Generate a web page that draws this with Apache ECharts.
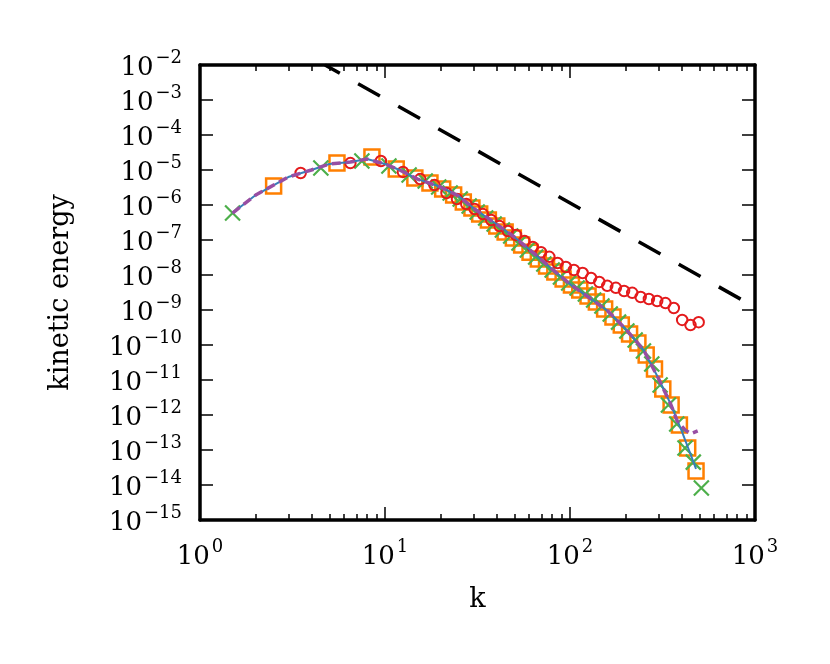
<!DOCTYPE html>
<html>
<head>
<meta charset="utf-8">
<script src="https://cdn.jsdelivr.net/npm/echarts@6/dist/echarts.min.js"></script>
<style>
html, body { margin: 0; padding: 0; background: #fff; }
#main { width: 830px; height: 664px; }
</style>
</head>
<body>
<div id="main"></div>
<script>
// tick positions
var xMajor = [1, 10, 100, 1000];
var xMinor = [2, 3, 4, 5, 6, 7, 8, 9, 20, 30, 40, 50, 60, 70, 80, 90, 200, 300, 400, 500, 600, 700, 800, 900];
var yMajor = [1e-15, 1e-14, 1e-13, 1e-12, 1e-11, 1e-10, 1e-9, 1e-8, 1e-7, 1e-6, 1e-5, 1e-4, 1e-3, 1e-2];

// red circles
var redK = [3.5, 6.5, 9.5, 12.5, 15.5, 18.5, 21.5, 24.5, 27.5, 30.5,
    33.8, 37.5, 41.6, 46.1, 51.1, 56.7, 62.9, 69.7, 77.3, 85.7, 95, 105, 117, 130, 144, 159, 177, 196, 217, 241, 267, 296, 328, 364, 404, 448, 496];
var redE = [8.2e-6, 1.58e-5, 1.81e-5, 8.8e-6, 5.5e-6, 3.7e-6, 2.2e-6, 1.48e-6, 1.07e-6, 7.7e-7,
    5.5e-7, 3.73e-7, 2.5e-7, 1.81e-7, 1.39e-7, 9.4e-8, 6.3e-8, 4.5e-8, 3.3e-8, 2.2e-8, 1.69e-8, 1.39e-8, 1.14e-8, 8.2e-9, 6.3e-9, 4.9e-9, 4.3e-9, 3.5e-9, 3.1e-9, 2.35e-9, 2.06e-9, 1.81e-9, 1.58e-9, 1.14e-9, 5.2e-10, 3.7e-10, 4.5e-10];

// orange squares
var orangeK = [2.5, 5.5, 8.5, 11.5, 14.5, 17.5, 20.5, 23.5, 26.5, 29.5, 32.5,
    36.2, 40.2, 44.6, 49.4, 54.8, 60.8, 67.4, 74.7, 82.8, 91.8, 101.8, 112.9, 125.2, 138.8, 153.9, 170.7, 189.3, 209.9, 232.8, 258.1, 286.2, 317.4, 352, 390.3, 432.8, 480];
var orangeE = [3.5e-6, 1.58e-5, 2.35e-5, 1.07e-5, 5.9e-6, 4.25e-6, 2.86e-6, 1.93e-6, 1.22e-6, 8.2e-7, 5.5e-7,
    3.73e-7, 2.5e-7, 1.69e-7, 1.14e-7, 7.2e-8, 4.5e-8, 2.86e-8, 1.81e-8, 1.22e-8, 7.7e-9, 5.2e-9, 3.73e-9, 2.5e-9, 1.69e-9, 1.07e-9, 6.3e-10, 3.73e-10, 2.06e-10, 1.14e-10, 5.2e-11, 2.06e-11, 5.5e-12, 1.93e-12, 5.2e-13, 1.14e-13, 2.5e-14];

// green crosses
var greenK = [1.5, 4.5, 7.5, 10.5, 13.5, 16.5, 19.5, 22.5, 25.5, 28.5, 31.5,
    35, 38.9, 43.1, 47.8, 53, 58.8, 65.2, 72.2, 80.1, 88.8, 98.4, 109.2, 121.1, 134.2, 148.8, 165, 183, 203, 225, 249.5, 276.7, 306.9, 340.4, 377.4, 418.5, 464, 513];
var greenE = [5.9e-7, 1.14e-5, 1.81e-5, 1.3e-5, 7.2e-6, 4.85e-6, 3.27e-6, 2.2e-6, 1.48e-6, 9.4e-7, 6.3e-7,
    4.25e-7, 2.86e-7, 1.93e-7, 1.3e-7, 8.2e-8, 5.2e-8, 3.27e-8, 2.06e-8, 1.39e-8, 8.8e-9, 5.9e-9, 4.25e-9, 2.86e-9, 1.93e-9, 1.3e-9, 7.7e-10, 4.5e-10, 2.5e-10, 1.39e-10, 6.7e-11, 2.86e-11, 7.2e-12, 1.93e-12, 5.5e-13, 1.14e-13, 4.5e-14, 8.2e-15];

// blue solid line
var blueK = [1.5, 2, 3, 4, 5, 6.5, 8, 10, 12, 15, 20, 25, 30, 40, 50, 60, 80, 100, 130, 160, 200, 250, 300, 350, 400, 450, 480];
var blueE = [5.9e-7, 1.93e-6, 6.3e-6, 1e-5, 1.48e-5, 1.69e-5, 2.06e-5, 1.48e-5, 1e-5, 5.5e-6, 3.27e-6, 1.81e-6, 8.2e-7, 2.86e-7, 1.22e-7, 5.5e-8, 1.48e-8, 5.5e-9, 2.06e-9, 9.4e-10, 2.86e-10, 7.2e-11, 1.14e-11, 2.06e-12, 3.7e-13, 7.2e-14, 2.9e-14];

// purple dashed line
var purpleK = [1.5, 2, 3, 4, 5, 6.5, 8, 10, 12, 15, 20, 25, 30, 40, 50, 60, 80, 100, 130, 160, 200, 250, 300, 350, 380, 420, 450, 490];
var purpleE = [5.9e-7, 1.93e-6, 6.3e-6, 1e-5, 1.48e-5, 1.69e-5, 2.06e-5, 1.48e-5, 1e-5, 5.5e-6, 3.27e-6, 1.81e-6, 8.2e-7, 2.86e-7, 1.22e-7, 5.5e-8, 1.48e-8, 5.5e-9, 2.06e-9, 9.4e-10, 2.86e-10, 7.2e-11, 1.14e-11, 2.06e-12, 6.7e-13, 3.7e-13, 2.9e-13, 3.5e-13];

// black dashed reference slope
var refK = [4.74, 1000];
var refE = [1e-2, 1.2e-9];

function pairs(ks, es) {
    var res = [];
    for (var i = 0; i < ks.length; i++) {
        res.push([ks[i], es[i]]);
    }
    return res;
}

var serif = 'DejaVu Serif';
var supRich = {
    b: { fontFamily: serif, fontSize: 26, color: '#000', lineHeight: 32, verticalAlign: 'bottom' },
    s: { fontFamily: serif, fontSize: 18, color: '#000', lineHeight: 8, verticalAlign: 'top', padding: [0, 0, 0, 2] }
};
function powLabel(v) {
    var e = Math.round(Math.log(v) / Math.LN10);
    return '{b|10}{s|' + String(e).replace('-', '\u2212') + '}';
}

var frame = { show: true, onZero: false, lineStyle: { color: '#000', width: 3.5 } };

function xAxisDef(pos, major, withLabel) {
    return {
        type: 'log', logBase: 10, min: 1, max: 1000, position: pos,
        axisLine: major ? frame : { show: false },
        axisTick: {
            show: true, inside: true, length: major ? 13 : 6,
            customValues: major ? xMajor : xMinor,
            lineStyle: { color: '#000', width: 1.5 }
        },
        axisLabel: withLabel ? {
            show: true, margin: 18, customValues: xMajor,
            formatter: powLabel, rich: supRich
        } : { show: false },
        splitLine: { show: false },
        minorTick: { show: false },
        name: withLabel ? 'k' : '',
        nameLocation: 'middle', nameGap: 66,
        nameTextStyle: { fontFamily: serif, fontSize: 27, color: '#000' }
    };
}

function yAxisDef(pos, withLabel) {
    return {
        type: 'log', logBase: 10, min: 1e-15, max: 1e-2, position: pos,
        axisLine: frame,
        axisTick: {
            show: true, inside: true, length: 13, customValues: yMajor,
            lineStyle: { color: '#000', width: 1.5 }
        },
        axisLabel: withLabel ? {
            show: true, margin: 18, customValues: yMajor,
            formatter: powLabel, rich: supRich
        } : { show: false },
        splitLine: { show: false },
        minorTick: { show: false },
        name: withLabel ? 'kinetic energy' : '',
        nameLocation: 'middle', nameGap: 126,
        nameTextStyle: { fontFamily: serif, fontSize: 27, color: '#000' }
    };
}

var myChart = echarts.init(document.getElementById('main'), null, { renderer: 'canvas' });
var option = {
    animation: false,
    backgroundColor: '#fff',
    grid: { left: 200, right: 75, top: 65, bottom: 144, containLabel: false },
    xAxis: [
        xAxisDef('bottom', true, true),
        xAxisDef('bottom', false, false),
        xAxisDef('top', true, false),
        xAxisDef('top', false, false)
    ],
    yAxis: [
        yAxisDef('left', true),
        yAxisDef('right', false)
    ],
    series: [
        {
            name: 'blue', type: 'line', data: pairs(blueK, blueE),
            showSymbol: false, silent: true,
            lineStyle: { color: '#377eb8', width: 2 }
        },
        {
            name: 'orange', type: 'scatter', data: pairs(orangeK, orangeE),
            symbol: 'rect', symbolSize: 15, silent: true,
            itemStyle: { color: 'rgba(0,0,0,0)', borderColor: '#ff7f00', borderWidth: 2.5, opacity: 1 }
        },
        {
            name: 'green', type: 'scatter', data: pairs(greenK, greenE),
            symbol: 'path://M0,0L10,10M10,0L0,10', symbolSize: 15, silent: true,
            itemStyle: { color: 'rgba(0,0,0,0)', borderColor: '#4daf4a', borderWidth: 2.2, opacity: 1 }
        },
        {
            name: 'red', type: 'scatter', data: pairs(redK, redE),
            symbol: 'circle', symbolSize: 10.5, silent: true,
            itemStyle: { color: 'rgba(0,0,0,0)', borderColor: '#e41a1c', borderWidth: 2, opacity: 1 }
        },
        {
            name: 'purple', type: 'line', data: pairs(purpleK, purpleE),
            showSymbol: false, silent: true,
            lineStyle: { color: '#984ea3', width: 3.5, type: [9, 5] }
        },
        {
            name: 'slope', type: 'line', data: pairs(refK, refE),
            showSymbol: false, silent: true,
            lineStyle: { color: '#000', width: 3.5, type: [25, 21], dashOffset: 8 }
        }
    ]
};
myChart.setOption(option);
window.addEventListener('resize', function () {
    myChart.resize();
});
</script>
</body>
</html>
